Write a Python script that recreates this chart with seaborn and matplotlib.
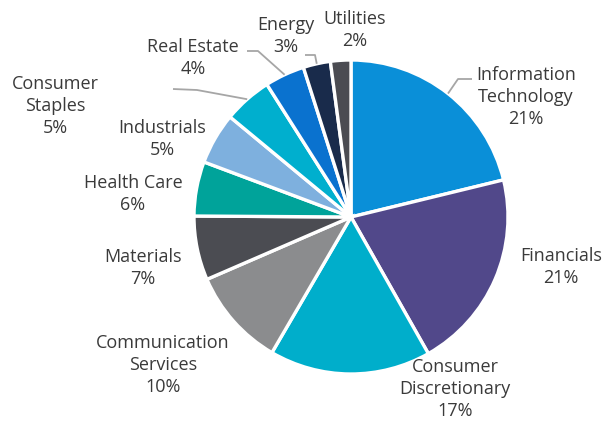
import numpy as np
import matplotlib
matplotlib.use("Agg")
import matplotlib.pyplot as plt
import seaborn as sns

# sector weights (percent)
sectors = ["Information\nTechnology", "Financials", "Consumer\nDiscretionary",
           "Communication\nServices", "Materials", "Health Care", "Industrials",
           "Consumer\nStaples", "Real Estate", "Energy", "Utilities"]
weights = [21.2, 20.6, 16.6, 10.1, 6.6, 5.6, 5.3, 5.0, 4.1, 2.8, 2.1]
pct_labels = ["21%", "21%", "17%", "10%", "7%", "6%", "5%", "5%", "4%", "3%", "2%"]
colors = ["#0a8fd8", "#51488a", "#00aecb", "#8b8c8e", "#4b4c52", "#00a39a",
          "#7eb0de", "#00afce", "#0a72cf", "#192b4b", "#4b4c52"]

# label centres in pixels (x, y from top)
label_pos = [(526, 97), (561, 267), (455, 389), (163, 365), (143, 268), (133, 194),
             (162, 139), (55, 106), (193, 58), (286, 36), (355, 30)]
# leader elbows (pixels) for labels that need one
leaders = {0: [(458, 79), (472, 79)],
           7: [(197, 90), (173, 89)],
           8: [(258, 51), (247, 51)],
           9: [(315, 55), (305, 55)]}

sns.set_theme(style="white")
plt.rcParams["font.family"] = ["Open Sans", "DejaVu Sans"]

W, H = 613, 421
CX, CY, R = 351, 217, 157

fig = plt.figure(figsize=(W / 100, H / 100), dpi=100)
ax = fig.add_axes([0, 0, 1, 1])

wedges, _ = ax.pie(weights, colors=colors, startangle=90, counterclock=False,
                   center=(CX, H - CY), radius=R,
                   wedgeprops=dict(edgecolor="white", linewidth=2.4))
ax.set_xlim(0, W)
ax.set_ylim(0, H)
ax.set_aspect("equal")
ax.axis("off")

for i, (name, pct) in enumerate(zip(sectors, pct_labels)):
    x, y = label_pos[i]
    ax.text(x, H - y, name + "\n" + pct, ha="center", va="center",
            fontsize=13, color="#3a3a3a", linespacing=1.32)
    if i in leaders:
        w = wedges[i]
        mid = np.deg2rad((w.theta1 + w.theta2) / 2)
        px = CX + R * np.cos(mid)
        py = (H - CY) + R * np.sin(mid)
        pts = [(px, py)] + [(a, H - b) for a, b in leaders[i]]
        xs, ys = zip(*pts)
        ax.plot(xs, ys, color="#a6a6a6", lw=1.3, solid_capstyle="butt")

fig.savefig("out.png", dpi=100, facecolor="white")
